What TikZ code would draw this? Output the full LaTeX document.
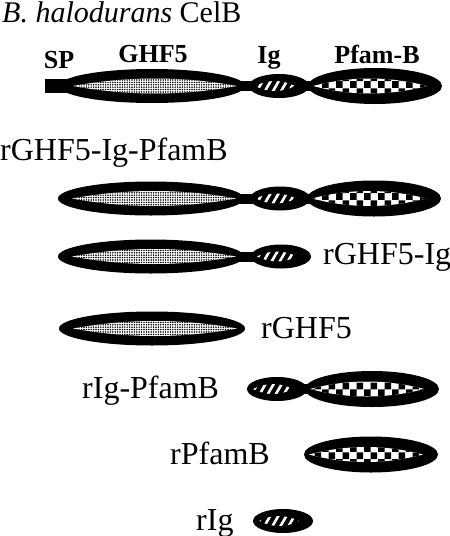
\documentclass[tikz,border=0pt]{standalone}
\usepackage{fontspec}
\setmainfont{Liberation Serif}
\usetikzlibrary{patterns, patterns.meta}

% coarse checkerboard for the Pfam-B domain
\pgfdeclarepatternformonly{checkbig}{\pgfpointorigin}{\pgfqpoint{14pt}{14pt}}{\pgfqpoint{14pt}{14pt}}{%
  \pgfpathrectangle{\pgfpointorigin}{\pgfqpoint{7pt}{7pt}}%
  \pgfpathrectangle{\pgfqpoint{7pt}{7pt}}{\pgfqpoint{7pt}{7pt}}%
  \pgfusepath{fill}}

\tikzset{
  rowlabel/.style={font=\fontsize{32}{34}\selectfont, inner sep=0pt, anchor=base west},
  domlabel/.style={font=\fontsize{26}{28}\selectfont\bfseries, inner sep=0pt, anchor=base},
  ghfin/.style={preaction={fill=white}, pattern={Dots[distance=2.4pt, radius=0.85pt]}, pattern color=black},
  igin/.style={preaction={fill=black}, pattern={Lines[angle=60, distance=7pt, line width=2.6pt]}, pattern color=white},
  pfin/.style={preaction={fill=white}, pattern=checkbig, pattern color=black}
}

% pointed inner region: style, cx, cy, half width, half height
\newcommand{\lensat}[5]{%
  \path[#1] ({#2-#4},#3) .. controls ({#2-#4/3},{#3-4*#5/3}) and ({#2+#4/3},{#3-4*#5/3}) .. ({#2+#4},#3)
    .. controls ({#2+#4/3},{#3+4*#5/3}) and ({#2-#4/3},{#3+4*#5/3}) .. cycle;}
% domains: cx, cy
\newcommand{\ghfdom}[2]{\fill (#1,#2) ellipse [x radius=93, y radius=17]; \lensat{ghfin}{#1+3}{#2}{82}{7.5}}
\newcommand{\igdom}[2]{\fill (#1,#2) ellipse [x radius=30, y radius=12]; \lensat{igin}{#1-4}{#2}{20}{5}}
\newcommand{\pfdom}[2]{\fill (#1,#2) ellipse [x radius=67, y radius=18]; \lensat{pfin}{#1-5}{#2}{57}{7.5}}

\begin{document}
\begin{tikzpicture}[x=1pt, y=-1pt]
  \useasboundingbox (0,0) rectangle (450,536);

  % full length CelB
  \node[rowlabel, font=\fontsize{30}{32}\selectfont] (celb) at (2,22) {\textit{B. halodurans} CelB};
  \node[domlabel] (splab) at (59,68) {SP};
  \node[domlabel] (ghflab) at (153,62) {GHF5};
  \node[domlabel] (iglab) at (269,63) {Ig};
  \node[domlabel] (pflab) at (377,63) {Pfam-B};
  \fill (152,81) rectangle (375,91);
  \fill (45,79) rectangle (72,93);
  \ghfdom{152}{86}
  \igdom{279}{86}
  \pfdom{375}{86}

  % rGHF5-Ig-PfamB
  \node[rowlabel] (full) at (0,160) {rGHF5-Ig-PfamB};
  \fill (151,193.5) rectangle (374,203.5);
  \ghfdom{151}{198.5}
  \igdom{280}{198.5}
  \pfdom{374}{198.5}

  % rGHF5-Ig
  \node[rowlabel] (ghfig) at (323,264) {rGHF5-Ig};
  \fill (151,251.5) rectangle (281,261.5);
  \ghfdom{151}{256.5}
  \igdom{281}{256.5}

  % rGHF5
  \node[rowlabel] (ghf) at (261,338) {rGHF5};
  \ghfdom{152}{328.5}

  % rIg-PfamB
  \node[rowlabel] (igpf) at (82,398) {rIg-PfamB};
  \fill (277,384) rectangle (372,394);
  \igdom{277}{389}
  \pfdom{372}{389}

  % rPfamB
  \node[rowlabel] (pf) at (170,464) {rPfamB};
  \pfdom{371}{454.5}

  % rIg
  \node[rowlabel] (ig) at (196,530) {rIg};
  \igdom{283}{521}
\end{tikzpicture}
\end{document}
